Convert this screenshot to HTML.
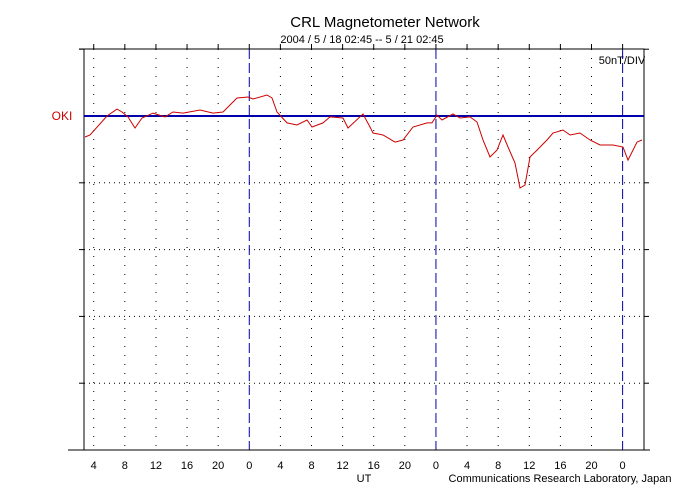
<!DOCTYPE html>
<html><head><meta charset="utf-8"><style>
body{margin:0;background:#fff;}
svg{display:block;font-family:"Liberation Sans",sans-serif;}
</style></head><body>
<svg id="c" width="700" height="500" xmlns="http://www.w3.org/2000/svg">
<text x="385" y="27" font-size="15" text-anchor="middle">CRL Magnetometer Network</text>
<text x="362" y="43" font-size="11" text-anchor="middle">2004 / 5 / 18  02:45 --  5 / 21  02:45</text>
<text x="622" y="64" font-size="11" text-anchor="middle">50nT/DIV</text>
<text x="62" y="120" font-size="12" fill="#cc0000" text-anchor="middle">OKI</text>
<text x="364" y="482" font-size="11" text-anchor="middle">UT</text>
<text x="560" y="482" font-size="11" text-anchor="middle">Communications Research Laboratory, Japan</text>
<g id="grid"></g>
<g id="marks"></g>
</svg>
<script>
const hours=[0.13,0.77,2.96,4.24,4.89,5.66,6.56,7.46,8.87,10.41,11.44,12.73,14.91,16.59,17.87,19.67,21.08,21.73,23.53,24.17,24.81,26.1,27.39,28.67,29.31,30.73,31.63,33.3,33.94,35.87,36.77,37.16,38.44,39.99,41.01,42.3,44.1,44.74,45.39,46.03,47.44,48.34,49.63,50.53,51.3,52.2,53.1,53.87,54.51,55.41,56.06,56.7,57.34,58.24,59.53,60.3,61.58,62.48,63.77,65.06,66.34,68.01,69.3,69.94,71.1,71.74];
const nT=[-15.7,-14.2,0,5.2,3,-0.7,-9,-1.5,2.2,-0.7,3,2.2,4.5,2.2,3,13.5,14.2,12.7,15.7,13.5,3,-5.2,-6.7,-3,-8.2,-5.2,-0.7,-1.5,-9,1.5,-8.2,-12.7,-14.2,-19.5,-18,-8.2,-5.2,-5.2,0.7,-3,1.5,-1.5,-0.7,-4.5,-18,-30.7,-25.5,-14.2,-23.2,-35.2,-53.9,-51.7,-30.7,-25.5,-18,-12.7,-10.5,-14.2,-12.7,-18,-21.7,-21.7,-23.2,-33,-19.5,-18];
const tickLabels=["4","8","12","16","20","0","4","8","12","16","20","0","4","8","12","16","20","0"];
const firstTickHour=1.25, tickStep=4;
const L=84,R=644,T=49,B=450,base=116,div=66.8;
const xs=h=>L+h*(R-L)/72;
const ys=v=>base-v*div/50;
const NS="http://www.w3.org/2000/svg";
const grid=document.getElementById('grid'),marks=document.getElementById('marks');
function el(p,tag,a){const e=document.createElementNS(NS,tag);for(const k in a)e.setAttribute(k,a[k]);p.appendChild(e);return e;}
// horizontal grid
for(let i=-1;i<=5;i++){const y=base+i*div;
 if(i>-1&&i<5&&i!==0){const g=el(grid,'line',{x1:L,x2:R,y1:y,y2:y,stroke:'#000','stroke-dasharray':'1 4'});
 
 }
 if(i!==0){el(grid,'line',{x1:L-5,x2:L,y1:y,y2:y,stroke:'#000'});el(grid,'line',{x1:R,x2:R+5,y1:y,y2:y,stroke:'#000'});}
}
// vertical grid + labels
tickLabels.forEach((lab,i)=>{const x=xs(firstTickHour+i*tickStep);
 const mid=lab==="0";
 const g=el(grid,'line',{x1:x,x2:x,y1:T,y2:B,stroke:mid?'#0000aa':'#000','stroke-dasharray':mid?'10 4':'1 8'});
 
 
 el(grid,'line',{x1:x,x2:x,y1:T-5,y2:T,stroke:'#000'});
 const t=el(grid,'text',{x:x,y:469,'font-size':11,'text-anchor':'middle'});t.textContent=lab;
 
 
});
el(grid,'rect',{x:L,y:T,width:R-L,height:B-T,fill:'none',stroke:'#000'});
el(grid,'line',{x1:L-16,x2:R+6,y1:B,y2:B,stroke:'#000'});
el(grid,'line',{x1:L-5,x2:L,y1:T,y2:T,stroke:'#000'});
const bl=el(marks,'line',{x1:L,x2:R,y1:base,y2:base,stroke:'#0000aa','stroke-width':2});


const pts=hours.map((h,i)=>xs(h).toFixed(1)+','+ys(nT[i]).toFixed(1)).join(' ');
const pl=el(marks,'polyline',{points:pts,fill:'none',stroke:'#cc0000','stroke-width':1});


</script>
</body></html>
